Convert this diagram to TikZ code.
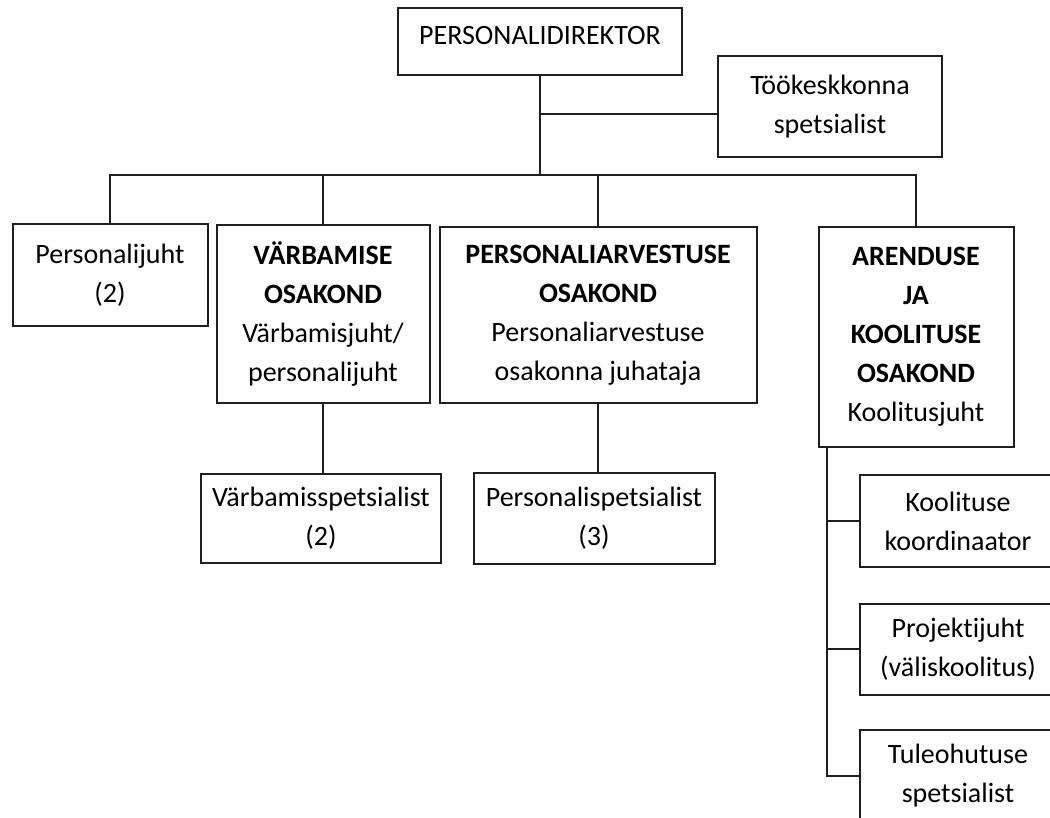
\documentclass[tikz,border=0pt]{standalone}
\usepackage{fontspec}
\setmainfont{Carlito}[Ligatures=NoCommon]
\begin{document}
\begin{tikzpicture}[x=1pt,y=-1pt,
	box/.style={draw=\LINECOLOR,line width=2pt,align=center,inner sep=0pt,font=\BOXFONT},
	link/.style={draw=\LINECOLOR,line width=2pt}]

\def\LINECOLOR{black!88}
\def\BOXFONT{\fontsize{28}{39}\selectfont}
	\useasboundingbox (0,0) rectangle (1050,818);
	\node[box,minimum width=284,minimum height=67,text depth=14pt] (direktor) at (540,42) {PERSONALIDIREKTOR};
	\node[box,minimum width=224,minimum height=101] (tookeskkond) at (830,107) {Töökeskkonna\\spetsialist};
	\node[box,minimum width=195,minimum height=102] (personalijuht) at (110,275) {Personalijuht\\(2)};
	\node[box,minimum width=213,minimum height=177] (varbamine) at (323,314) {\textbf{VÄRBAMISE}\\\textbf{OSAKOND}\\Värbamisjuht/\\personalijuht};
	\node[box,minimum width=317,minimum height=176] (arvestus) at (598,315) {\textbf{PERSONALIARVESTUSE}\\\textbf{OSAKOND}\\Personaliarvestuse\\osakonna juhataja};
	\node[box,minimum width=195,minimum height=220] (arendus) at (916,337) {\textbf{ARENDUSE}\\\textbf{JA}\\\textbf{KOOLITUSE}\\\textbf{OSAKOND}\\Koolitusjuht};
	\node[box,minimum width=240,minimum height=89] (varbspets) at (321,518) {Värbamisspetsialist\\(2)};
	\node[box,minimum width=241,minimum height=91] (persspets) at (594,518) {Personalispetsialist\\(3)};
	\node[box,minimum width=196,minimum height=92] (koordinaator) at (958,521) {Koolituse\\koordinaator};
	\node[box,minimum width=196,minimum height=91] (projektijuht) at (958,649) {Projektijuht\\(väliskoolitus)};
	\node[box,minimum width=196,minimum height=92] (tuleohutus) at (958,776) {Tuleohutuse\\spetsialist};
	\coordinate (bus) at (540,175);
	\coordinate (arendustrunk) at ([xshift=9pt]arendus.south west);
	\draw[link] (direktor.south) -- (bus);
	\draw[link] ([yshift=-7pt]direktor.south |- tookeskkond.west) -- ([yshift=-7pt]tookeskkond.west);
	\draw[link] (personalijuht.north) |- (bus) -| (arendus.north);
	\draw[link] (varbamine.north) -- (varbamine.north |- bus);
	\draw[link] (arvestus.north) -- (arvestus.north |- bus);
	\draw[link] (varbamine.south) -- (varbamine.south |- varbspets.north);
	\draw[link] (arvestus.south) -- (arvestus.south |- persspets.north);
	\draw[link] (arendustrunk) |- (tuleohutus.west);
	\draw[link] (arendustrunk |- koordinaator.west) -- (koordinaator.west);
	\draw[link] (arendustrunk |- projektijuht.west) -- (projektijuht.west);

          \end{tikzpicture}
\end{document}
